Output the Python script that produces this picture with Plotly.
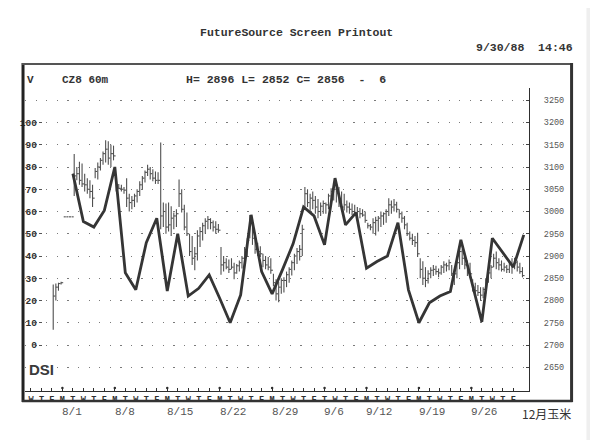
import plotly.graph_objects as go

# --- data (Dec corn, 60 min bars + DSI) ---

day_letters = ["W", "T", "F",
               "M", "T", "W", "T", "F",
               "M", "T", "W", "T", "F",
               "M", "T", "W", "T", "F",
               "M", "T", "W", "T", "F",
               "M", "T", "W", "T", "F",
               "T", "W", "T", "F",
               "M", "T", "W", "T", "F",
               "M", "T", "W", "T", "F",
               "M", "T", "W", "T", "F"]

week_start_day = [3, 8, 13, 18, 23, 28, 32, 37, 42]
week_labels = ["8/1", "8/8", "8/15", "8/22", "8/29", "9/6", "9/12", "9/19", "9/26"]

first_bar_day = 2  # first day with price bars (7/29)

# hourly bars, 4 per day
bar_high = [
    [2836, 2838, 2840, 2842], [2988, 2988, 2988, 2988], [3129, 3100, 3112, 3108],
    [3085, 3075, 3070, 3060], [3098, 3110, 3120, 3135], [3160, 3158, 3150, 3148],
    [3065, 3062, 3060, 3055], [3075, 3040, 3035, 3040], [3050, 3068, 3080, 3092],
    [3105, 3100, 3095, 3090], [3088, 3155, 3020, 3018], [3020, 3012, 2998, 3005],
    [3072, 3050, 3015, 2998], [2950, 2945, 2920, 2958], [2965, 2975, 2985, 2990],
    [2985, 2980, 2978, 2972], [2920, 2900, 2895, 2892], [2895, 2885, 2882, 2890],
    [2900, 2920, 2940, 2992], [2975, 2952, 2930, 2922], [2905, 2900, 2898, 2895],
    [2860, 2848, 2842, 2850], [2852, 2865, 2875, 2890], [2905, 2918, 2925, 2970],
    [3055, 3050, 3040, 3045], [3035, 3028, 3020, 3025], [3020, 3040, 3052, 3058],
    [3060, 3055, 3045, 3040], [3025, 3020, 3018, 3015], [3010, 3008, 3005, 3000],
    [2975, 2972, 2985, 2988], [2990, 3000, 2998, 3005], [3030, 3025, 3028, 3022],
    [3005, 3000, 2990, 2975], [2955, 2950, 2945, 2952], [2895, 2888, 2875, 2868],
    [2875, 2880, 2878, 2872], [2880, 2888, 2885, 2892], [2880, 2870, 2890, 2930],
    [2915, 2900, 2890, 2885], [2848, 2840, 2835, 2830], [2830, 2850, 2868, 2880],
    [2905, 2910, 2895, 2890], [2885, 2880, 2890, 2895], [2896, 2890, 2885, 2875],
]
bar_low = [
    [2734, 2800, 2822, 2836], [2988, 2988, 2988, 2988], [3035, 3070, 3060, 3055],
    [3045, 3040, 3030, 3010], [3075, 3072, 3092, 3105], [3110, 3105, 3100, 3115],
    [3045, 3050, 3045, 3040], [3010, 3000, 3005, 3010], [3020, 3035, 3050, 3065],
    [3080, 3072, 3068, 3062], [3062, 2960, 2965, 2950], [2955, 2945, 2960, 2965],
    [3010, 2998, 2958, 2945], [2900, 2880, 2868, 2890], [2920, 2935, 2950, 2960],
    [2960, 2955, 2950, 2952], [2858, 2865, 2870, 2862], [2870, 2848, 2860, 2865],
    [2872, 2880, 2898, 2940], [2925, 2905, 2900, 2898], [2875, 2870, 2868, 2860],
    [2832, 2800, 2796, 2815], [2818, 2830, 2840, 2856], [2868, 2882, 2890, 2900],
    [3005, 3010, 3000, 3005], [2995, 2985, 2990, 2995], [2995, 3005, 3015, 3025],
    [3020, 3010, 3000, 3002], [2998, 2995, 2992, 2990], [2990, 2985, 2988, 2975],
    [2962, 2958, 2950, 2946], [2955, 2965, 2970, 2975], [2990, 2995, 3000, 2998],
    [2985, 2975, 2960, 2945], [2935, 2925, 2920, 2898], [2850, 2835, 2830, 2838],
    [2850, 2855, 2858, 2852], [2858, 2862, 2865, 2868], [2855, 2835, 2850, 2870],
    [2880, 2870, 2855, 2850], [2820, 2815, 2810, 2800], [2805, 2815, 2840, 2850],
    [2875, 2870, 2868, 2865], [2865, 2862, 2862, 2860], [2870, 2865, 2860, 2852],
]
bar_close = [
    [2810, 2830, 2838, 2840], [2988, 2988, 2988, 2988], [3080, 3085, 3070, 3062],
    [3060, 3050, 3045, 3030], [3090, 3100, 3115, 3130], [3140, 3120, 3130, 3125],
    [3055, 3052, 3050, 3048], [3030, 3020, 3025, 3035], [3045, 3060, 3075, 3088],
    [3095, 3085, 3075, 3070], [3070, 2990, 3000, 2965], [2970, 2985, 2990, 2995],
    [3040, 3005, 2965, 2950], [2910, 2895, 2905, 2945], [2955, 2968, 2978, 2982],
    [2975, 2965, 2960, 2958], [2880, 2885, 2875, 2870], [2875, 2862, 2878, 2885],
    [2895, 2915, 2935, 2975], [2940, 2915, 2910, 2905], [2890, 2880, 2875, 2868],
    [2840, 2815, 2830, 2845], [2845, 2858, 2870, 2885], [2900, 2910, 2915, 2960],
    [3040, 3020, 3030, 3025], [3010, 3000, 3012, 3018], [3015, 3035, 3045, 3050],
    [3045, 3020, 3010, 3015], [3010, 3005, 3000, 2995], [3000, 2995, 2992, 2980],
    [2968, 2965, 2975, 2980], [2985, 2990, 2995, 3000], [3015, 3010, 3015, 3005],
    [2995, 2985, 2970, 2950], [2940, 2935, 2930, 2905], [2870, 2850, 2845, 2860],
    [2868, 2870, 2865, 2862], [2875, 2880, 2878, 2885], [2860, 2860, 2885, 2910],
    [2895, 2880, 2870, 2860], [2830, 2822, 2818, 2812], [2825, 2845, 2862, 2875],
    [2895, 2885, 2880, 2870], [2875, 2870, 2885, 2880], [2885, 2875, 2865, 2856],
]

# DSI, one value per day, plotted at the end of the day (8/1 .. 9/30)
dsi_first_day = 3
dsi_values = [77, 55.5, 53, 60.5, 80, 32.5, 24.8, 46, 57, 24.3,
              50, 22, 25.5, 31.5, 21, 10, 22.5, 58.5, 33, 23,
              34, 45.5, 62, 58, 45, 75, 54, 59.5, 34.5, 37.5,
              40, 55, 24.8, 10, 19, 22, 24, 47.3, 29, 10.4,
              48, 41.5, 35, 49.5]

dsi_ticks = [0, 10, 20, 30, 40, 50, 60, 70, 80, 90, 100]
price_ticks = [2650, 2700, 2750, 2800, 2850, 2900, 2950, 3000,
               3050, 3100, 3150, 3200, 3250]

# --- page geometry, in screen pixels of the 598x440 window ---
# the page body adds an 8px margin, so the figure itself is 8px smaller
OFF = 8
W, H = 598 - OFF, 440 - OFF
L, R, T, B = 20, 529, 88, 391   # plot area on screen


def xp(x):
    return (x - L) / (R - L)


def yp(y):
    return (B - y) / (B - T)


# DSI scale: 0 at y=345, 2.225 px per unit; price = 2700 + 5 * DSI
dsi_range = [(345 - B) / 2.225, (345 - T) / 2.225]
price_range = [2700 + 5 * v for v in dsi_range]

MONO = "Liberation Mono"
INK = "#2e2e2e"

# build the bar segments (vertical high-low + close tick)
bx, by = [], []
for d, (hs, ls, cs) in enumerate(zip(bar_high, bar_low, bar_close)):
    day = first_bar_day + d
    for k in range(len(hs)):
        xc = day + (k + 0.5) / len(hs)
        bx += [xc, xc, None, xc, xc + 0.2, None]
        by += [ls[k], hs[k], None, cs[k], cs[k], None]

dsi_x = [dsi_first_day + 1 + i for i in range(len(dsi_values))]

fig = go.Figure()

fig.add_trace(go.Scatter(
    x=bx, y=by, mode="lines", yaxis="y",
    line=dict(color="#505050", width=1.1),
    showlegend=False, hoverinfo="skip",
))

fig.add_trace(go.Scatter(
    x=dsi_x, y=dsi_values, mode="lines", yaxis="y2",
    line=dict(color="#353535", width=2.8),
    showlegend=False,
))

fig.update_layout(
    width=W, height=H,
    margin=dict(l=L - OFF, r=W + OFF - R, t=T - OFF, b=H + OFF - B),
    paper_bgcolor="white", plot_bgcolor="white",
    showlegend=False,
    xaxis=dict(
        range=[-(26 - L) / 10.59, (R - 26) / 10.59],
        tickvals=list(range(len(day_letters))), ticktext=day_letters,
        ticks="inside", ticklen=3, tickcolor=INK, tickwidth=1,
        tickfont=dict(family=MONO, size=8.5, color=INK, weight="bold"),
        showline=True, linecolor=INK, linewidth=1.2,
        showgrid=False, zeroline=False, tickangle=0,
    ),
    yaxis=dict(
        range=price_range, side="right",
        tickvals=price_ticks,
        ticks="inside", ticklen=3, tickcolor="#444",
        ticklabelstandoff=12,
        tickfont=dict(family=MONO, size=8.5, color="#555"),
        showline=True, linecolor=INK, linewidth=1.2,
        showgrid=True, gridcolor="#7a7a7a", gridwidth=1.3,
        griddash="1.3px,9.29px", zeroline=False,
    ),
    yaxis2=dict(
        range=dsi_range, overlaying="y", anchor="free",
        position=xp(37), side="left",
        tickvals=dsi_ticks,
        ticks="outside", ticklen=3, tickcolor="#555",
        tickfont=dict(family=MONO, size=9.5, color=INK, weight="bold"),
        showline=False, showgrid=False, zeroline=False,
    ),
)

# week labels under the day letters
for d, lab in zip(week_start_day, week_labels):
    fig.add_annotation(
        x=d - 0.2, y=yp(412), xref="x", yref="paper",
        text=lab, showarrow=False, xanchor="left", yanchor="middle",
        font=dict(family=MONO, size=11, color="#555"),
    )

# small dots above the axis at the start of each week
for d in week_start_day:
    fig.add_shape(
        type="circle", xref="x", yref="paper",
        x0=d - 0.12, x1=d + 0.12, y0=yp(389.3), y1=yp(386.7),
        fillcolor=INK, line=dict(width=0),
    )

# header / footer texts
nb = "\u00a0"
texts = [
    ("FutureSource Screen Printout", 294, 33, "center", 11.5, "#333", True),
    ("9/30/88" + nb * 2 + "14:46", 575, 47, "right", 11.5, "#333", True),
    ("V", 20, 80, "left", 11, "#333", True),
    ("CZ8 60m", 55, 80, "left", 11, "#333", True),
    ("H= 2896 L= 2852 C= 2856".replace(" ", nb) + nb * 2 + "-" + nb * 2 + "6",
     181, 80, "left", 11.5, "#333", True),
]
for txt, x, y, anchor, size, color, bold in texts:
    fig.add_annotation(
        x=xp(x), y=yp(y), xref="paper", yref="paper",
        text=txt, showarrow=False, xanchor=anchor, yanchor="middle",
        font=dict(family=MONO, size=size, color=color,
                  weight="bold" if bold else "normal"),
    )

fig.add_annotation(
    x=xp(22), y=yp(369), xref="paper", yref="paper",
    text="<b>DSI</b>", showarrow=False, xanchor="left", yanchor="middle",
    font=dict(family="Liberation Sans", size=15, color="#3a3a3a"),
)
fig.add_annotation(
    x=xp(573), y=yp(413), xref="paper", yref="paper",
    text="12月玉米", showarrow=False, xanchor="right", yanchor="middle",
    font=dict(family="Noto Sans CJK SC", size=12, color="#333"),
)

# outer frame of the screen
frame = [
    (18, 63, 18, 402, 3, "#222"),
    (17, 64, 573, 64, 2, "#555"),
    (572, 63, 572, 402, 3, "#333"),
    (17, 401, 573, 401, 2.5, "#333"),
]
for x0, y0, x1, y1, w, c in frame:
    fig.add_shape(
        type="line", xref="paper", yref="paper",
        x0=xp(x0), y0=yp(y0), x1=xp(x1), y1=yp(y1),
        line=dict(color=c, width=w),
    )

# scanner strip on the right edge
fig.add_shape(
    type="rect", xref="paper", yref="paper",
    x0=xp(587), x1=xp(599), y0=yp(441), y1=yp(-1),
    fillcolor="#efefef", line=dict(width=0), layer="below",
)

fig.write_html("out.html")
